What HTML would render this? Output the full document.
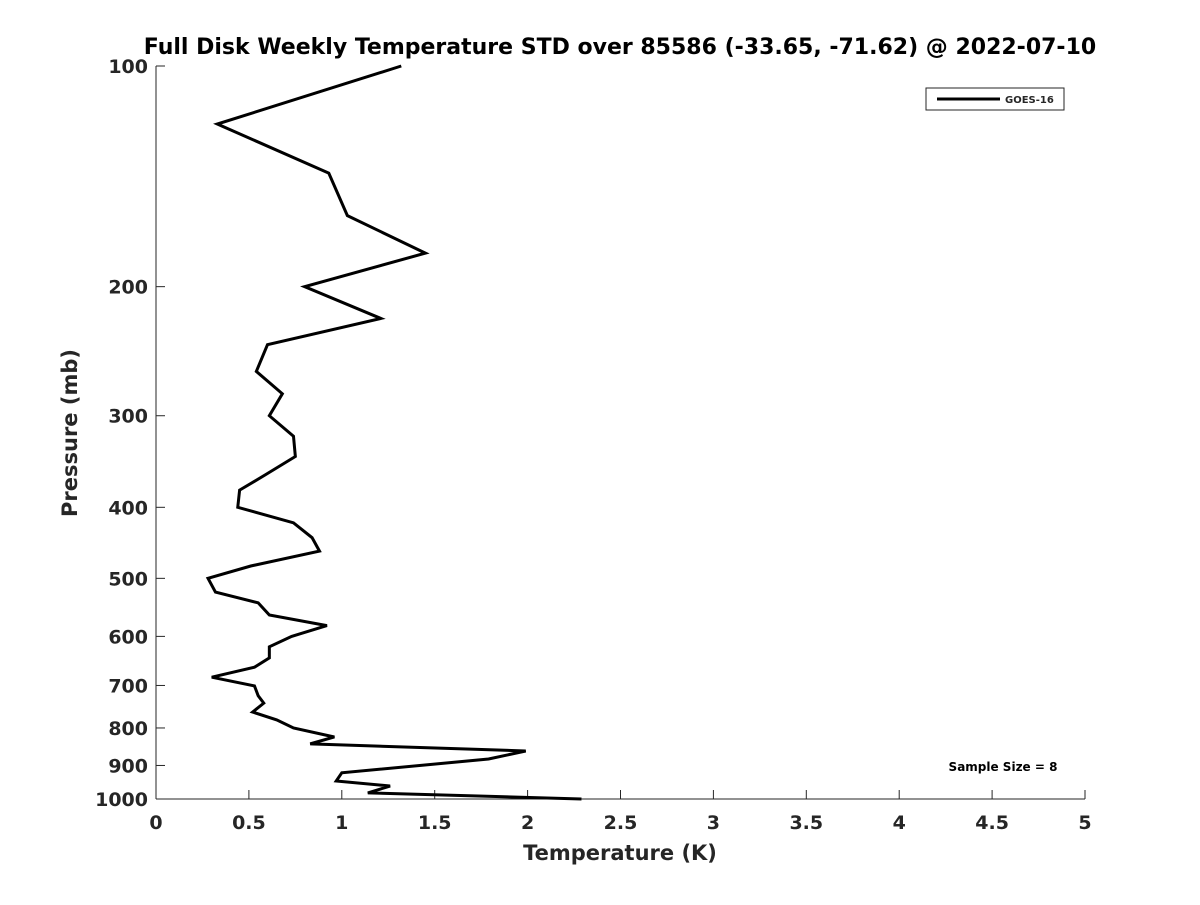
<!DOCTYPE html>
<html><head><meta charset="utf-8"><style>
body{margin:0;background:#fff;}
svg text{font-family:"DejaVu Sans","Liberation Sans",sans-serif;font-weight:bold;fill:#262626;}
</style></head><body>
<svg id="chart" width="1200" height="900" xmlns="http://www.w3.org/2000/svg">
<rect width="1200" height="900" fill="#fff"/>
<text x="620" y="54" font-size="22" text-anchor="middle" fill="#000" style="fill:#000">Full Disk Weekly Temperature STD over 85586 (-33.65, -71.62) @ 2022-07-10</text>
<g id="axes"></g>
<polyline id="series" fill="none" stroke="#000" stroke-width="3" stroke-linejoin="miter"/>
<rect x="926" y="88" width="138" height="22" fill="#fff" stroke="#262626" stroke-width="1"/>
<line x1="937" y1="99" x2="1000" y2="99" stroke="#000" stroke-width="3"/>
<text x="1005" y="103" font-size="10">GOES-16</text>
<text x="1003" y="771" font-size="12" text-anchor="middle" style="fill:#000">Sample Size = 8</text>
<text x="620" y="860" font-size="21" text-anchor="middle">Temperature (K)</text>
<text transform="translate(77,433) rotate(-90)" font-size="21" text-anchor="middle">Pressure (mb)</text>
</svg>
<script>
const temps=[1.32,0.33,0.93,1.03,1.45,0.80,1.21,0.60,0.54,0.68,0.61,0.74,0.75,0.59,0.45,0.44,0.74,0.84,0.88,0.51,0.28,0.32,0.55,0.61,0.92,0.73,0.61,0.61,0.53,0.30,0.53,0.55,0.58,0.52,0.65,0.74,0.96,0.83,1.99,1.79,1.00,0.97,1.26,1.14,2.29];
const pressures=[100,120,140,160,180,200,221,240,261,280,300,320,341,361,379,400,420,440,459,481,500,522,540,561,580,600,620,642,661,682,701,723,740,761,780,800,823,841,860,882,921,945,960,981,1000];
const xTicks=[0,0.5,1,1.5,2,2.5,3,3.5,4,4.5,5];
const xTickLabels=["0","0.5","1","1.5","2","2.5","3","3.5","4","4.5","5"];
const yTicks=[100,200,300,400,500,600,700,800,900,1000];
const X0=156,X1=1085,Y0=66,Y1=799;
const xs=v=>X0+(v-0)/(5-0)*(X1-X0);
const ys=p=>Y0+Math.log10(p/100)/Math.log10(10)*(Y1-Y0);
const NS="http://www.w3.org/2000/svg";
const g=document.getElementById('axes');
function mk(t,a){const e=document.createElementNS(NS,t);for(const k in a)e.setAttribute(k,a[k]);g.appendChild(e);return e;}
let e=mk('line',{x1:X0,y1:Y1,x2:X1,y2:Y1,stroke:'#262626','stroke-width':1});


e=mk('line',{x1:X0,y1:Y0,x2:X0,y2:Y1,stroke:'#262626','stroke-width':1});


xTicks.forEach((v,i)=>{
 const t=mk('line',{x1:xs(v),y1:Y1,x2:xs(v),y2:Y1-9,stroke:'#262626'});
 
 
 const l=mk('text',{x:xs(v),y:Y1+30,'font-size':19,'text-anchor':'middle'});
 l.textContent=xTickLabels[i];
 
 
});
yTicks.forEach(p=>{
 const t=mk('line',{x1:X0,y1:ys(p),x2:X0+9,y2:ys(p),stroke:'#262626'});
 
 
 const l=mk('text',{x:X0-8,y:ys(p)+7,'font-size':19,'text-anchor':'end'});
 l.textContent=String(p);
 
 
});
document.getElementById('series').setAttribute('points',temps.map((t,i)=>xs(t)+','+ys(pressures[i])).join(' '));
</script>
</body></html>
